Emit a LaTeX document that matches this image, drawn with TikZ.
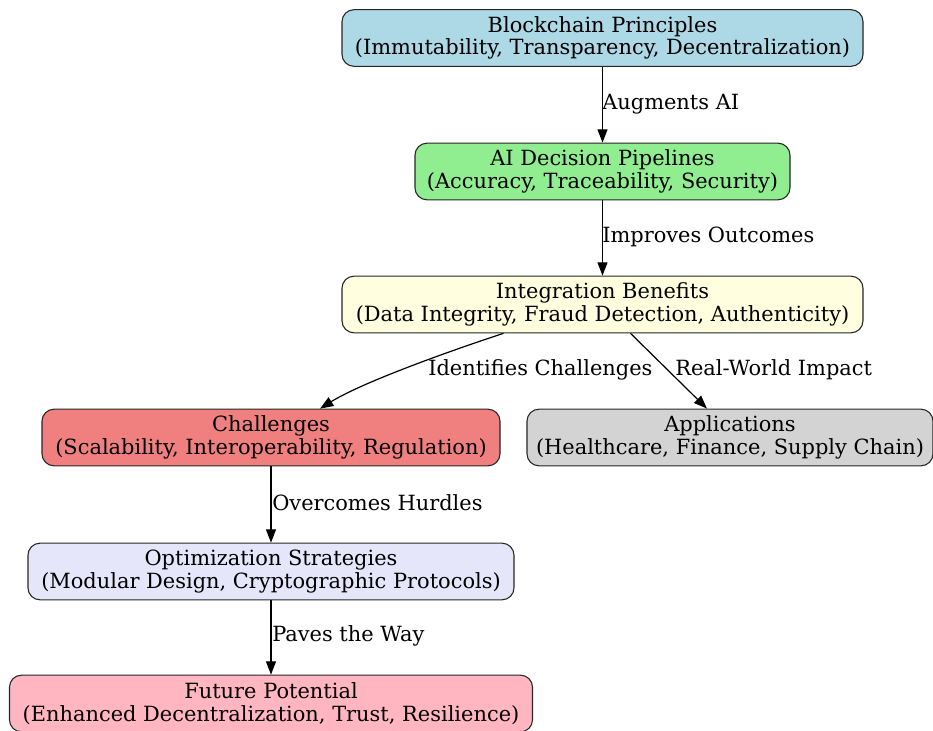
\documentclass[tikz,border=0pt]{standalone}
\usepackage{fontspec}
\setmainfont{DejaVu Serif}
\usetikzlibrary{arrows.meta,calc}
\definecolor{cblue}{HTML}{ADD8E6}
\definecolor{cgreen}{HTML}{90EE90}
\definecolor{cyellow}{HTML}{FFFFE0}
\definecolor{ccoral}{HTML}{F08080}
\definecolor{cgray}{HTML}{D3D3D3}
\definecolor{clav}{HTML}{E6E6FA}
\definecolor{cpink}{HTML}{FFB6C1}
\tikzset{
  box/.style={draw=black!85, line width=0.8pt, rounded corners=9pt, align=center,
    inner sep=0pt, minimum height=42.5pt, font=\fontsize{15.7}{16.8}\selectfont},
  lbl/.style={anchor=west, inner sep=0pt, font=\fontsize{15.7}{16.8}\selectfont},
  arr/.style={draw=black, line width=0.9pt, -{Triangle[length=10pt,width=7.5pt]}}
}
\begin{document}
\begin{tikzpicture}[x=0.75pt,y=-0.75pt]
\useasboundingbox (0,0) rectangle (933,731);
\node[box, fill=cblue, minimum width=390.75pt] (bp) at (602.5,38) {Blockchain Principles\\(Immutability, Transparency, Decentralization)};
\node[box, fill=cgreen, minimum width=281.25pt] (ai) at (602.5,171.5) {AI Decision Pipelines\\(Accuracy, Traceability, Security)};
\node[box, fill=cyellow, minimum width=390.75pt] (ib) at (602.5,304.5) {Integration Benefits\\(Data Integrity, Fraud Detection, Authenticity)};
\node[box, fill=ccoral, minimum width=343.5pt] (ch) at (271,437.5) {Challenges\\(Scalability, Interoperability, Regulation)};
\node[box, fill=cgray, minimum width=304.5pt] (ap) at (730,437.5) {Applications\\(Healthcare, Finance, Supply Chain)};
\node[box, fill=clav, minimum width=364.5pt] (os) at (271,571.5) {Optimization Strategies\\(Modular Design, Cryptographic Protocols)};
\node[box, fill=cpink, minimum width=392.25pt] (fp) at (271,703.5) {Future Potential\\(Enhanced Decentralization, Trust, Resilience)};

\draw[arr] (bp.south) -- (ai.north);
\draw[arr] (ai.south) -- (ib.north);
\draw[arr] ([xshift=-74.25pt]ib.south) .. controls +(-40,13) and +(45,-28) .. ([xshift=36.75pt]ch.north);
\draw[arr] ([xshift=21pt]ib.south) -- ([xshift=-17.25pt]ap.north);
\draw[arr] (ch.south) -- (os.north);
\draw[arr] (os.south) -- (fp.north);

\node[lbl] (l1) at (602,104) {Augments AI};
\node[lbl] (l2) at (602,237) {Improves Outcomes};
\node[lbl] (l3) at (428,370) {Identifies Challenges};
\node[lbl] (l4) at (675,370) {Real-World Impact};
\node[lbl] (l5) at (272,503) {Overcomes Hurdles};
\node[lbl] (l6) at (272,636) {Paves the Way};
\end{tikzpicture}
\end{document}
